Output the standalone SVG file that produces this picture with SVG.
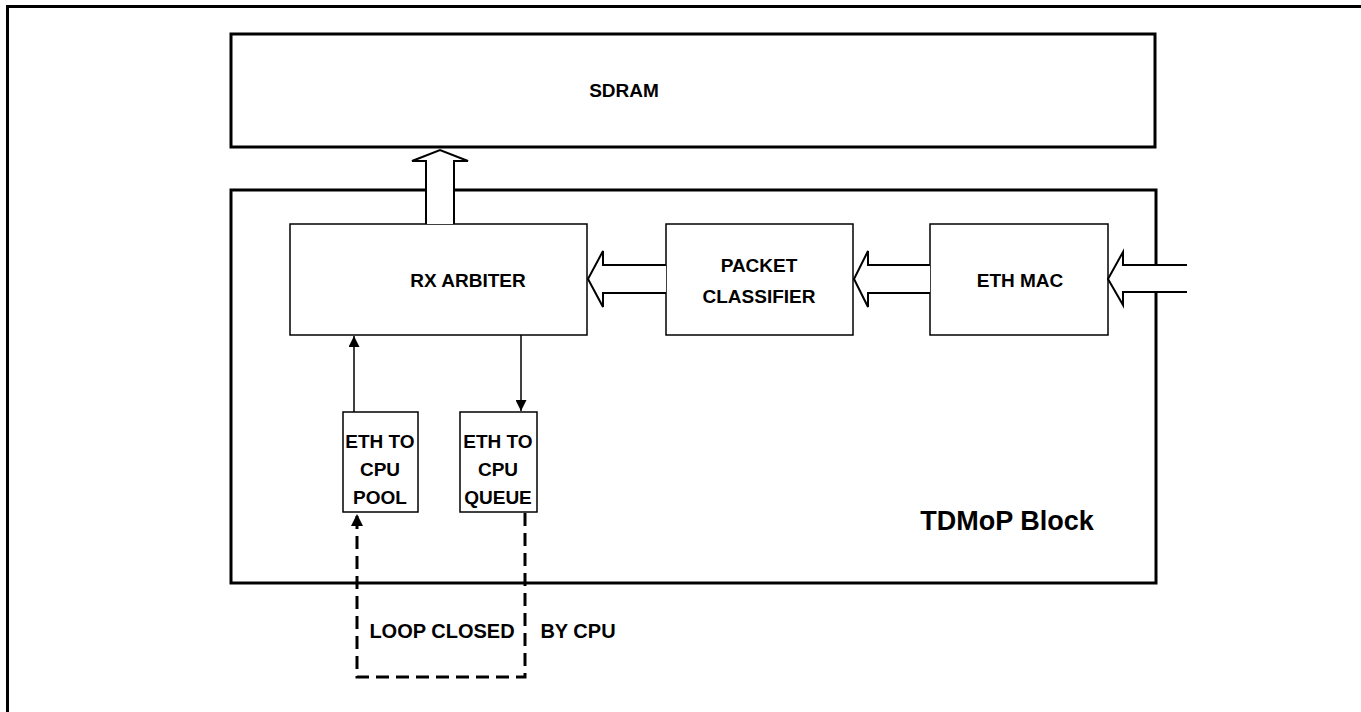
<svg xmlns="http://www.w3.org/2000/svg" width="1361" height="712" viewBox="0 0 1361 712">
<style>
text{font-family:"Liberation Sans",Arial,sans-serif;font-weight:bold;fill:#000;text-anchor:middle}
.lbl{font-size:19px}
.loop{font-size:20px}
.big{font-size:27px}
.thin{fill:#fff;stroke:#000;stroke-width:1.5}
.thick{fill:none;stroke:#000;stroke-width:3}
.fat{fill:#fff;stroke:#000;stroke-width:2}
.conn{fill:none;stroke:#000;stroke-width:1.5}
.dash{fill:none;stroke:#000;stroke-width:3;stroke-dasharray:13,7}
</style>
<defs>
<marker id="ah" viewBox="0 0 10 10" refX="10" refY="5" markerWidth="14" markerHeight="11" markerUnits="userSpaceOnUse" orient="auto"><path d="M0,0 L10,5 L0,10 z" fill="#000"/></marker>
<marker id="ah2" viewBox="0 0 10 10" refX="10" refY="5" markerWidth="15" markerHeight="12" markerUnits="userSpaceOnUse" orient="auto"><path d="M0,0 L10,5 L0,10 z" fill="#000"/></marker>
</defs>
<rect width="1361" height="712" fill="#fff"/>
<rect x="7.5" y="6.5" width="1400" height="800" class="thick" id="frame"/>
<g id="sdram"><rect x="231" y="34" width="924" height="113" class="thick"/><text class="lbl" x="624" y="97">SDRAM</text></g>
<g id="tdmop"><rect x="231" y="190" width="925" height="393" class="thick"/><text class="big" x="1007" y="530">TDMoP Block</text></g>
<g id="rxarb"><rect x="290" y="224" width="297" height="111" class="thin"/><text class="lbl" x="468" y="287">RX ARBITER</text></g>
<g id="pktcls"><rect x="666" y="224" width="187" height="111" class="thin"/><text class="lbl" x="759" y="272">PACKET</text><text class="lbl" x="759" y="303">CLASSIFIER</text></g>
<g id="ethmac"><rect x="930" y="224" width="178" height="111" class="thin"/><text class="lbl" x="1020" y="287">ETH MAC</text></g>
<g id="pool"><rect x="343" y="412" width="75" height="100" class="thin"/><text class="lbl" x="380" y="448">ETH TO</text><text class="lbl" x="380" y="476">CPU</text><text class="lbl" x="380" y="504">POOL</text></g>
<g id="queue"><rect x="460" y="412" width="77" height="100" class="thin"/><text class="lbl" x="498" y="448">ETH TO</text><text class="lbl" x="498" y="476">CPU</text><text class="lbl" x="498" y="504">QUEUE</text></g>
<g id="connectors">
<path class="fat" d="M426,224 L426,161 L412,161 L440,150 L468,161 L454,161 L454,224"/>
<path class="fat" d="M666,265 L603,265 L603,251 L588,279 L603,307 L603,293 L666,293"/>
<path class="fat" d="M930,265 L868,265 L868,251 L854,279 L868,307 L868,293 L930,293"/>
<path class="fat" d="M1187,265 L1123,265 L1123,252 L1108,279 L1123,305 L1123,292 L1187,292"/>
<line class="conn" x1="354" y1="412" x2="354" y2="336" marker-end="url(#ah)"/>
<line class="conn" x1="521" y1="335" x2="521" y2="411" marker-end="url(#ah)"/>
<path class="dash" d="M525,513 L525,677 L357,677 L357,514" marker-end="url(#ah2)"/>
<text class="loop" x="442" y="638">LOOP CLOSED</text>
<text class="loop" x="578" y="638">BY CPU</text>
</g>
</svg>
